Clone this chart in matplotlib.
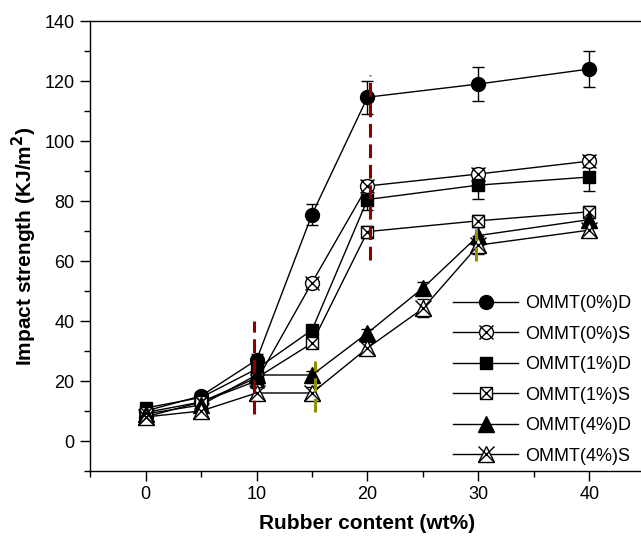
import matplotlib
matplotlib.use("Agg")
import matplotlib.pyplot as plt
from matplotlib.lines import Line2D
from matplotlib.ticker import MultipleLocator

plt.rcParams['font.family'] = ['Liberation Sans', 'DejaVu Sans']

x_main = [0, 5, 10, 15, 20, 30, 40]
x_4pct = [0, 5, 10, 15, 20, 25, 30, 40]

omm0_D = [10, 15, 27, 75.5, 114.6, 119, 124]
omm0_D_err = [1, 1, 2, 3.5, 5.5, 5.7, 6]
omm0_S = [8, 13, 20, 52.8, 85, 89, 93.3]
omm0_S_err = [1, 1, 1.5, 1.5, 2, 2, 2]
omm1_D = [11, 14.5, 24, 37, 80.5, 85.3, 88]
omm1_D_err = [1, 1, 1.5, 1.5, 3.5, 4.5, 4.5]
omm1_S = [9.5, 13, 21, 32.6, 69.8, 73.4, 76.4]
omm1_S_err = [1, 1, 1.5, 1.5, 2, 2, 2]
omm4_D = [9, 12, 22, 22, 36, 51, 68.5, 73.8]
omm4_D_err = [1, 1, 1.5, 1.5, 1.5, 2, 3, 2]
omm4_S = [8, 10, 16, 16, 31, 44.2, 65.3, 70.3]
omm4_S_err = [1, 2, 2, 2, 2, 3, 3, 2]

labels = ["OMMT(0%)D", "OMMT(0%)S", "OMMT(1%)D", "OMMT(1%)S", "OMMT(4%)D", "OMMT(4%)S"]

# vertical dashed guide lines: x, ymin, ymax
red_x = [9.8, 20.2]
red_ymin = [9, 60.5]
red_ymax = [40, 122]
olive_x = [15.3, 29.8]
olive_ymin = [9.7, 60]
olive_ymax = [26.7, 70.7]

fig = plt.figure(figsize=(6.41, 5.37), dpi=100)
ax = fig.add_axes([90/641, 66/537, 555/641, 450/537])

series = [
    (x_main, omm0_D, omm0_D_err, 'o', 'black', None, 10),
    (x_main, omm0_S, omm0_S_err, 'o', 'white', 'x', 10),
    (x_main, omm1_D, omm1_D_err, 's', 'black', None, 8.5),
    (x_main, omm1_S, omm1_S_err, 's', 'white', 'x', 8.5),
    (x_4pct, omm4_D, omm4_D_err, '^', 'black', None, 12),
    (x_4pct, omm4_S, omm4_S_err, '^', 'white', 'x', 12),
]

handles = []
for xs, ys, es, m, fc, over, ms in series:
    ax.errorbar(xs, ys, yerr=es, fmt='none', ecolor='black', elinewidth=1,
                capsize=4, capthick=1, zorder=2)
    ax.plot(xs, ys, color='black', lw=1.0, zorder=3)
    ax.plot(xs, ys, ls='none', marker=m, ms=ms, mfc=fc, mec='black', mew=1.0, zorder=4)
    h1 = Line2D([], [], color='black', lw=1.0, marker=m, ms=ms, mfc=fc, mec='black', mew=1.0)
    if over:
        ax.plot(xs, ys, ls='none', marker='x', ms=ms, mec='black', mew=1.0, zorder=5)
        h2 = Line2D([], [], ls='none', marker='x', ms=ms, mec='black', mew=1.0)
        handles.append((h1, h2))
    else:
        handles.append(h1)

for xv, y0, y1 in zip(red_x, red_ymin, red_ymax):
    ax.plot([xv, xv], [y0, y1], color='#8B0000', lw=2.2, ls=(0, (4.5, 2.2)), zorder=6)
for xv, y0, y1 in zip(olive_x, olive_ymin, olive_ymax):
    ax.plot([xv, xv], [y0, y1], color='#8F8F00', lw=2.2, ls=(0, (4.5, 2.2)), zorder=6)

ax.set_xlim(-5, 45)
ax.set_ylim(-10, 140)
ax.xaxis.set_major_locator(MultipleLocator(10))
ax.xaxis.set_minor_locator(MultipleLocator(5))
ax.yaxis.set_major_locator(MultipleLocator(20))
ax.yaxis.set_minor_locator(MultipleLocator(10))
ax.tick_params(which='major', direction='out', length=7, width=1, labelsize=13, pad=4)
ax.tick_params(which='minor', direction='out', length=4, width=1)
ax.tick_params(top=False, right=False)
for s in ax.spines.values():
    s.set_linewidth(1.0)

ax.set_xlabel("Rubber content (wt%)", fontsize=15, fontweight='bold', labelpad=8)
ax.set_ylabel("Impact strength (KJ/m$\\mathbf{^2}$)", fontsize=15, fontweight='bold', labelpad=4)

leg = fig.legend(handles, labels, loc='upper left', bbox_to_anchor=(453/641, 1 - 295/537),
                 bbox_transform=fig.transFigure, frameon=False, fontsize=13,
                 handlelength=3.6, handletextpad=0.4, labelspacing=0.75,
                 borderpad=0, borderaxespad=0)

fig.savefig("out.png", dpi=100)
